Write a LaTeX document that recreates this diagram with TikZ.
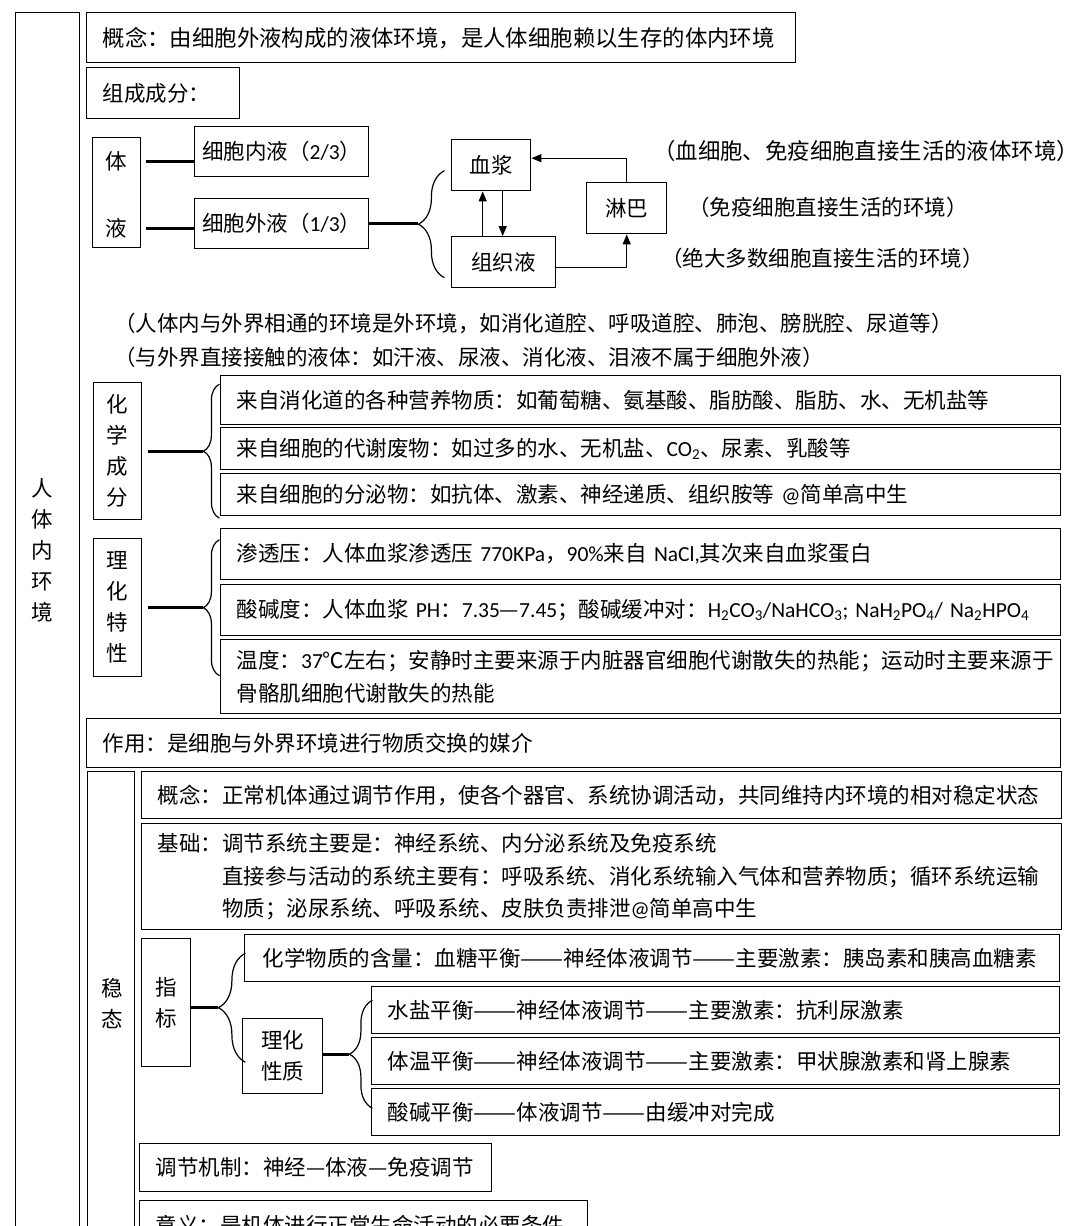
\documentclass[tikz,border=0pt]{standalone}
\usepackage{fontspec}
\usepackage{graphicx}
\setmainfont{Noto Sans CJK SC}
\newfontfamily\latfont{Carlito}
\usetikzlibrary{positioning,arrows.meta,calc,decorations.pathreplacing}
\newcommand\lat[1]{{\latfont #1}}
\newcommand\ldash{\resizebox{2em}{\height}{——}}
\newcommand\bodyfs{\fontsize{21.5}{32.5}\selectfont}
\newcommand\stackfs{\fontsize{21.5}{31}\selectfont}
\newcommand\topfs{\fontsize{22.4}{30}\selectfont}
\tikzset{
 tbox/.style={draw, line width=1.4pt, anchor=north west, inner xsep=16pt,
 inner ysep=0pt, align=left},
 cbox/.style={draw, line width=1.4pt, anchor=north west, inner sep=0pt,
 align=center},
 vtxt/.style={align=center, inner sep=0pt, font=\stackfs},
 note/.style={anchor=west, inner sep=0pt},
 thk/.style={line width=3pt},
 brc/.style={decorate, decoration={brace, amplitude=#1pt}, line width=1.2pt},
 arr/.style={-{Triangle[length=10pt,width=8pt]}, line width=1.3pt},
}

\begin{document}
\begin{tikzpicture}[x=1pt, y=-1pt, font=\bodyfs]
 \useasboundingbox (0,0) rectangle (1080,1226);

 % left column
 \node[cbox, minimum width=64pt, minimum height=1240pt] (rtbox) at (15,12) {};
 \node[vtxt] (rt) at (42,550) {人\\体\\内\\环\\境};

 % composition
 \node[tbox, text width=677pt, minimum height=50pt, font=\topfs] (gn) at (86,12)
 {概念：由细胞外液构成的液体环境，是人体细胞赖以生存的体内环境};
 \node[tbox, text width=121pt, minimum height=51pt] (zc) at (86,67) {组成成分：};
 \node[cbox, minimum width=48pt, minimum height=110pt] (ty) at (92,137) {};
 \node[vtxt] (ti) at (116,161) {体};
 \node[vtxt] (ye) at (116,228) {液};
 \node[cbox, minimum width=174pt, minimum height=50pt] (xbnl) at (194,126) {细胞内液（\lat{2/3}）};
 \node[cbox, minimum width=174pt, minimum height=50pt] (xbwl) at (194,198) {细胞外液（\lat{1/3}）};
 \node[cbox, minimum width=79pt, minimum height=51pt] (xj) at (451,139) {血浆};
 \node[cbox, minimum width=104pt, minimum height=51pt] (zzy) at (451,236) {组织液};
 \node[cbox, minimum width=80pt, minimum height=51pt] (lb) at (586,182) {淋巴};
 \node[note, font=\topfs] (xjnote) at (653,151) {（血细胞、免疫细胞直接生活的液体环境）};
 \node[note] (lbnote) at (688,207) {（免疫细胞直接生活的环境）};
 \node[note] (zzynote) at (661,258) {（绝大多数细胞直接生活的环境）};

 \draw[thk] ([xshift=5pt]ti.center -| ty.east) -- (ti.center -| xbnl.west);
 \draw[thk] ([xshift=5pt]ye.center -| ty.east) -- (ye.center -| xbwl.west);
 \draw[thk] (xbwl.east) -- ++(49,0) coordinate (bt1);
 \draw[brc=26] ($(bt1)+(26,54)$) -- ($(bt1)+(26,-53)$);
 \draw[arr] (lb.north) |- ([yshift=7pt]xj.east);
 \draw[arr] ([yshift=-5pt]zzy.east) -| (lb.south);
 \draw[arr] ([xshift=-8.5pt]xj.south |- zzy.north) -- ([xshift=-8.5pt]xj.south);
 \draw[arr] ([xshift=11.5pt]xj.south) -- ([xshift=11.5pt]xj.south |- zzy.north);

 \node[note] (wai1) at (114,323)
 {（人体内与外界相通的环境是外环境，如消化道腔、呼吸道腔、肺泡、膀胱腔、尿道等）};
 \node[note] (wai2) at (114,357)
 {（与外界直接接触的液体：如汗液、尿液、消化液、泪液不属于细胞外液）};

 % chemical composition
 \node[cbox, minimum width=48pt, minimum height=137pt, font=\stackfs] (hx) at (93,382) {化\\学\\成\\分};
 \node[tbox, text width=808pt, minimum height=49pt] (hx1) at (220,375)
 {来自消化道的各种营养物质：如葡萄糖、氨基酸、脂肪酸、脂肪、水、无机盐等};
 \node[tbox, text width=808pt, minimum height=42pt] (hx2) at (220,427)
 {来自细胞的代谢废物：如过多的水、无机盐、\lat{CO\textsubscript{2}}、尿素、乳酸等};
 \node[tbox, text width=808pt, minimum height=42pt] (hx3) at (220,473)
 {来自细胞的分泌物：如抗体、激素、神经递质、组织胺等 \lat{@}简单高中生};
 \draw[thk] ([xshift=6pt]hx.east) -- ++(55,0) coordinate (bt2);
 \draw[brc=16] ($(bt2)+(16,67)$) -- ($(bt2)+(16,-67)$);

 % physicochemical properties
 \node[cbox, minimum width=48pt, minimum height=138pt, font=\stackfs] (lh) at (93,538) {理\\化\\特\\性};
 \node[tbox, text width=808pt, minimum height=51pt] (lh1) at (220,528)
 {渗透压：人体血浆渗透压 \lat{770KPa}，\lat{90\%}来自 \lat{NaCl,}其次来自血浆蛋白};
 \node[tbox, text width=808pt, minimum height=51pt] (lh2) at (220,584)
 {酸碱度：人体血浆 \lat{PH}：\lat{7.35}—\lat{7.45}；酸碱缓冲对：\lat{H\textsubscript{2}CO\textsubscript{3}/NaHCO\textsubscript{3}; NaH\textsubscript{2}PO\textsubscript{4}/ Na\textsubscript{2}HPO\textsubscript{4}}};
 \node[tbox, text width=808pt, minimum height=74pt] (lh3) at (220,639)
 {温度：\lat{37}℃左右；安静时主要来源于内脏器官细胞代谢散失的热能；运动时主要来源于\\骨骼肌细胞代谢散失的热能};
 \draw[thk] ([xshift=6pt]lh.east) -- ++(55,0) coordinate (bt3);
 \draw[brc=16] ($(bt3)+(16,68)$) -- ($(bt3)+(16,-68)$);

 \node[tbox, text width=942pt, minimum height=49pt] (zy) at (86,718)
 {作用：是细胞与外界环境进行物质交换的媒介};

 % homeostasis
 \node[cbox, minimum width=47pt, minimum height=480pt] (wtbox) at (87,771) {};
 \node[vtxt] (wt) at (112,1004) {稳\\态};
 \node[tbox, text width=888pt, minimum height=47pt] (wg) at (141,771)
 {概念：正常机体通过调节作用，使各个器官、系统协调活动，共同维持内环境的相对稳定状态};
 \node[tbox, text width=888pt, minimum height=106pt] (jc) at (141,823)
 {基础：调节系统主要是：神经系统、内分泌系统及免疫系统\\
 \hphantom{基础：}直接参与活动的系统主要有：呼吸系统、消化系统输入气体和营养物质；循环系统运输\\
 \hphantom{基础：}物质；泌尿系统、呼吸系统、皮肤负责排泄\lat{@}简单高中生};
 \node[cbox, minimum width=49pt, minimum height=128pt, font=\stackfs] (zb) at (141,938) {指\\标};
 \node[tbox, text width=779pt, inner xsep=18pt, minimum height=47pt] (hxwz) at (244,934)
 {化学物质的含量：血糖平衡\ldash 神经体液调节\ldash 主要激素：胰岛素和胰高血糖素};
 \node[cbox, minimum width=80pt, minimum height=75pt, font=\stackfs] (lhxz) at (242,1018) {理化\\性质};
 \node[tbox, text width=656pt, minimum height=47pt] (sy) at (371,986)
 {水盐平衡\ldash 神经体液调节\ldash 主要激素：抗利尿激素};
 \node[tbox, text width=656pt, minimum height=47pt] (tiwen) at (371,1037)
 {体温平衡\ldash 神经体液调节\ldash 主要激素：甲状腺激素和肾上腺素};
 \node[tbox, text width=656pt, minimum height=47pt] (sj) at (371,1088)
 {酸碱平衡\ldash 体液调节\ldash 由缓冲对完成};
 \draw[thk] ([yshift=-5pt]zb.east) -- ++(27,0) coordinate (bt4);
 \draw[brc=27] ($(bt4)+(27,54.5)$) -- ($(bt4)+(27,-54.5)$);
 \draw[thk] ([yshift=2pt]lhxz.east) -- ++(26,0) coordinate (bt5);
 \draw[brc=23] ($(bt5)+(23,54)$) -- ($(bt5)+(23,-54)$);

 \node[tbox, text width=320pt, minimum height=48pt] (tj) at (139,1143)
 {调节机制：神经—体液—免疫调节};
 \node[tbox, text width=416pt, minimum height=50pt] (yy) at (139,1200)
 {意义：是机体进行正常生命活动的必要条件};
\end{tikzpicture}
\end{document}
